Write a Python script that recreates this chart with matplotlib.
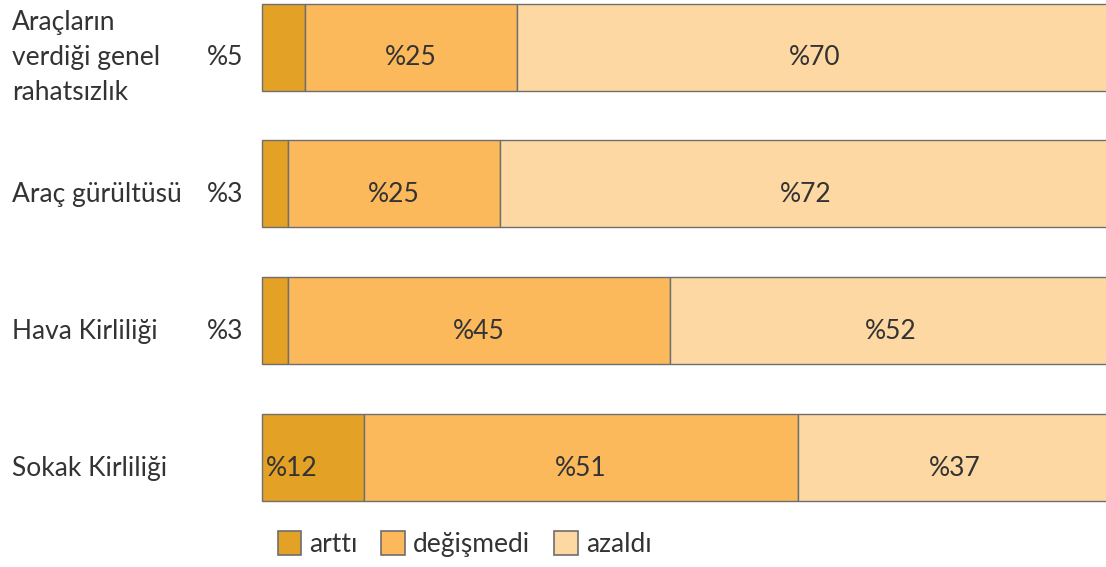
import matplotlib.pyplot as plt
from matplotlib.patches import Patch

# --- Data ---
categories = ['Araçların\nverdiği genel\nrahatsızlık', 'Araç gürültüsü',
              'Hava Kirliliği', 'Sokak Kirliliği']
artti = [5, 3, 3, 12]
degismedi = [25, 25, 45, 51]
azaldi = [70, 72, 52, 37]
series_names = ['arttı', 'değişmedi', 'azaldı']
colors = ['#E3A225', '#FBB95C', '#FDD8A2']

plt.rcParams['font.family'] = ['Lato', 'DejaVu Sans']
text_color = '#333333'
edge = '#6E6E6E'
fs = 19

fig = plt.figure(figsize=(11.06, 5.67), dpi=100)
ax = fig.add_axes([0, 0, 1, 1])

# scale: ~8.5 px per percent, bars start at px 262; rows ~137 px apart
px_per_pct = 8.5
row_px = 136.7
ax.set_xlim(-262 / px_per_pct, (1106 - 262) / px_per_pct)
ax.set_ylim((567 - 47) / row_px, -47 / row_px)
ax.axis('off')

y = list(range(len(categories)))
bar_h = 87 / row_px

left = [0] * len(categories)
for vals, col in zip([artti, degismedi, azaldi], colors):
    ax.barh(y, vals, left=left, height=bar_h, color=col,
            edgecolor=edge, linewidth=1.0)
    left = [l + v for l, v in zip(left, vals)]

off = 0.08  # labels sit a little below the bar centre
for i in y:
    # arttı label: outside if small, inside otherwise
    if artti[i] < 10:
        ax.text(-2.2, i + off, f'%{artti[i]}', ha='right', va='center',
                fontsize=fs, color=text_color)
    else:
        ax.text(0.5, i + off, f'%{artti[i]}', ha='left', va='center',
                fontsize=fs, color=text_color)
    ax.text(artti[i] + degismedi[i] / 2, i + off, f'%{degismedi[i]}',
            ha='center', va='center', fontsize=fs, color=text_color)
    ax.text(artti[i] + degismedi[i] + azaldi[i] / 2, i + off,
            f'%{azaldi[i]}', ha='center', va='center', fontsize=fs,
            color=text_color)
    ax.text(-29.4, i + off, categories[i], ha='left', va='center',
            fontsize=fs, color=text_color, linespacing=1.5)

handles = [Patch(facecolor=c, edgecolor=edge, linewidth=1.2) for c in colors]
fig.legend(handles, series_names, loc='center', bbox_to_anchor=(0.42, 0.04),
           ncol=3, frameon=False, fontsize=fs, handlelength=0.9,
           handleheight=1.0, handletextpad=0.3, columnspacing=0.9,
           labelcolor=text_color)

fig.savefig('out.png', dpi=100, facecolor='white')
